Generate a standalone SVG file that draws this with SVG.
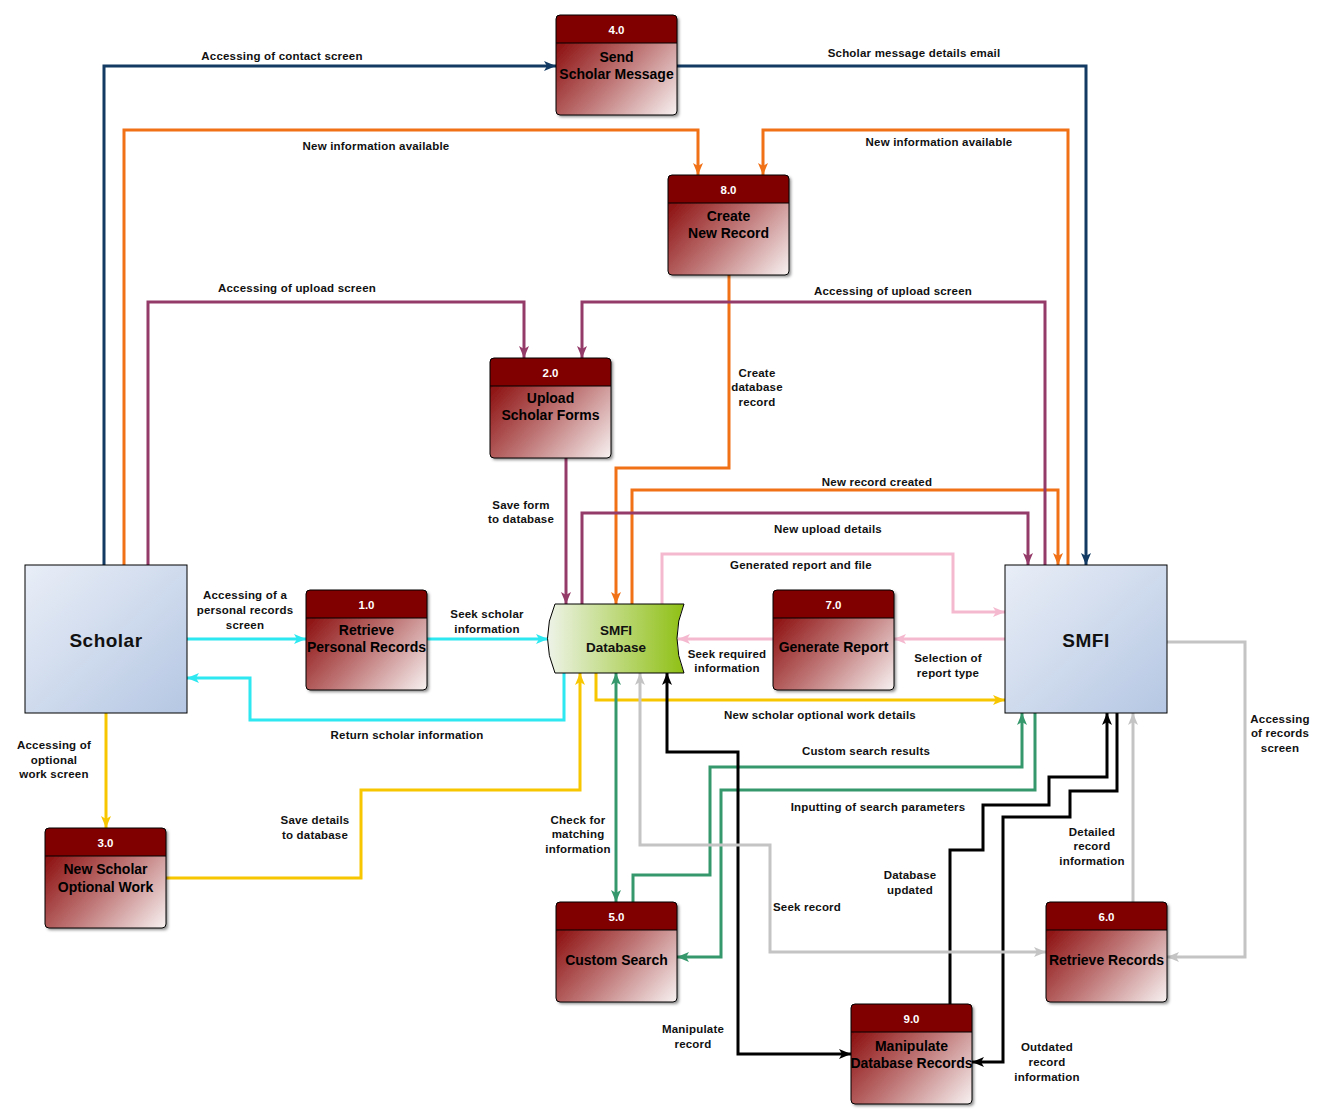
<svg xmlns="http://www.w3.org/2000/svg" width="1330" height="1120" viewBox="0 0 1330 1120">
  <defs>
    <style>
      .lbl { font-family: "Liberation Sans", Arial, sans-serif; font-weight: bold; font-size: 11.5px; letter-spacing: 0.2px; fill: #111; text-anchor: middle; }
      .num { font-family: "Liberation Sans", Arial, sans-serif; font-weight: bold; font-size: 11.5px; fill: #ffffff; text-anchor: middle; }
      .ttl { font-family: "Liberation Sans", Arial, sans-serif; font-weight: bold; font-size: 14px; fill: #000000; text-anchor: middle; }
      .ent { font-family: "Liberation Sans", Arial, sans-serif; font-weight: bold; font-size: 19px; fill: #111; text-anchor: middle; letter-spacing: 0.5px; }
      .db { font-family: "Liberation Sans", Arial, sans-serif; font-weight: bold; font-size: 13.5px; fill: #111; text-anchor: middle; }
      .body { fill: url(#procGrad); }
      .head { fill: #800000; }
      .edge { fill: none; stroke: #000; stroke-width: 1; }
      .c { fill: none; stroke-width: 3; stroke-linejoin: miter; }
      .navy { stroke: #123a63; marker-end: url(#aNavy); }
      .orange { stroke: #f07116; marker-end: url(#aOrange); }
      .purple { stroke: #953b69; marker-end: url(#aPurple); }
      .pink { stroke: #f5b9cf; marker-end: url(#aPink); }
      .cyan { stroke: #2de8f0; marker-end: url(#aCyan); }
      .yellow { stroke: #f7c600; marker-end: url(#aYellow); }
      .green { stroke: #35986c; marker-end: url(#aGreen); }
      .black { stroke: #000; marker-end: url(#aBlack); }
      .gray { stroke: #c4c4c4; marker-end: url(#aGray); }
      .green.both { marker-start: url(#aGreen); }
      .black.both { marker-start: url(#aBlack); }
      .gray.both { marker-start: url(#aGray); }
    </style>
    <linearGradient id="procGrad" x1="0" y1="0.25" x2="1" y2="1">
      <stop offset="0" stop-color="#8a0a0a"/>
      <stop offset="0.5" stop-color="#c07878"/>
      <stop offset="1" stop-color="#f8f2f2"/>
    </linearGradient>
    <linearGradient id="entGrad" x1="0" y1="0" x2="1" y2="1">
      <stop offset="0" stop-color="#e9eef7"/>
      <stop offset="1" stop-color="#b5c7e3"/>
    </linearGradient>
    <linearGradient id="dbGrad" x1="0" y1="0" x2="1" y2="0">
      <stop offset="0" stop-color="#eef3e8"/>
      <stop offset="1" stop-color="#8fc014"/>
    </linearGradient>
    <filter id="shadow" x="-10%" y="-10%" width="130%" height="130%">
      <feDropShadow dx="2" dy="2" stdDeviation="1.5" flood-color="#000" flood-opacity="0.45"/>
    </filter>
    <marker id="aNavy" markerUnits="userSpaceOnUse" markerWidth="13" markerHeight="11" refX="12" refY="5" orient="auto-start-reverse"><path d="M0,0 L12,5 L0,10 L3,5 Z" fill="#123a63"/></marker>
    <marker id="aOrange" markerUnits="userSpaceOnUse" markerWidth="13" markerHeight="11" refX="12" refY="5" orient="auto-start-reverse"><path d="M0,0 L12,5 L0,10 L3,5 Z" fill="#f07116"/></marker>
    <marker id="aPurple" markerUnits="userSpaceOnUse" markerWidth="13" markerHeight="11" refX="12" refY="5" orient="auto-start-reverse"><path d="M0,0 L12,5 L0,10 L3,5 Z" fill="#953b69"/></marker>
    <marker id="aPink" markerUnits="userSpaceOnUse" markerWidth="13" markerHeight="11" refX="12" refY="5" orient="auto-start-reverse"><path d="M0,0 L12,5 L0,10 L3,5 Z" fill="#f5b9cf"/></marker>
    <marker id="aCyan" markerUnits="userSpaceOnUse" markerWidth="13" markerHeight="11" refX="12" refY="5" orient="auto-start-reverse"><path d="M0,0 L12,5 L0,10 L3,5 Z" fill="#2de8f0"/></marker>
    <marker id="aYellow" markerUnits="userSpaceOnUse" markerWidth="13" markerHeight="11" refX="12" refY="5" orient="auto-start-reverse"><path d="M0,0 L12,5 L0,10 L3,5 Z" fill="#f7c600"/></marker>
    <marker id="aGreen" markerUnits="userSpaceOnUse" markerWidth="13" markerHeight="11" refX="12" refY="5" orient="auto-start-reverse"><path d="M0,0 L12,5 L0,10 L3,5 Z" fill="#35986c"/></marker>
    <marker id="aBlack" markerUnits="userSpaceOnUse" markerWidth="13" markerHeight="11" refX="12" refY="5" orient="auto-start-reverse"><path d="M0,0 L12,5 L0,10 L3,5 Z" fill="#000"/></marker>
    <marker id="aGray" markerUnits="userSpaceOnUse" markerWidth="13" markerHeight="11" refX="12" refY="5" orient="auto-start-reverse"><path d="M0,0 L12,5 L0,10 L3,5 Z" fill="#c4c4c4"/></marker>
    <!-- process box frame, 121 x 100 with a 28px header -->
    <g id="procBox">
      <rect x="0" y="0" width="121" height="100" rx="4" class="body" filter="url(#shadow)"/>
      <path d="M0,28 V4 Q0,0 4,0 H117 Q121,0 121,4 V28 Z" class="head"/>
      <line x1="0" y1="28" x2="121" y2="28" stroke="#000" stroke-width="1"/>
      <rect x="0" y="0" width="121" height="100" rx="4" class="edge"/>
    </g>
  </defs>

  <rect width="1330" height="1120" fill="#fff"/>

  <!-- connectors -->
  <g id="connectors">
    <polyline class="c navy" points="104,565 104,66 556,66"/>
    <polyline class="c navy" points="677,66 1086,66 1086,565"/>

    <polyline class="c orange" points="124,565 124,130 698,130 698,175"/>
    <polyline class="c orange" points="1068,565 1068,130 763,130 763,175"/>
    <polyline class="c orange" points="729,275 729,468 616,468 616,604"/>
    <polyline class="c orange" points="632,604 632,490 1058,490 1058,565"/>

    <polyline class="c purple" points="148,565 148,302 524,302 524,358"/>
    <polyline class="c purple" points="1045,565 1045,302 582,302 582,358"/>
    <polyline class="c purple" points="566,458 566,604"/>
    <polyline class="c purple" points="582,604 582,513 1028,513 1028,565"/>

    <polyline class="c pink" points="662,604 662,554 953,554 953,612 1005,612"/>
    <polyline class="c pink" points="773,639 678,639"/>
    <polyline class="c pink" points="1005,639 894,639"/>

    <polyline class="c cyan" points="187,639 306,639"/>
    <polyline class="c cyan" points="427,639 548,639"/>
    <polyline class="c cyan" points="564,673 564,720 250,720 250,678 187,678"/>

    <polyline class="c yellow" points="106,713 106,828"/>
    <polyline class="c yellow" points="166,878 361,878 361,790 580,790 580,673"/>
    <polyline class="c yellow" points="596,673 596,700 1005,700"/>

    <polyline class="c green both" points="616,673 616,902"/>
    <polyline class="c green" points="633,902 633,875 710,875 710,767 1022,767 1022,713"/>
    <polyline class="c green" points="1035,713 1035,790 721,790 721,957 677,957"/>

    <polyline class="c black" points="950,1004 950,850 983,850 983,805 1049,805 1049,777 1107,777 1107,713"/>
    <polyline class="c black" points="1117,713 1117,791 1070,791 1070,817 1003,817 1003,1062 972,1062"/>
    <polyline class="c black both" points="667,673 667,752 738,752 738,1054 851,1054"/>

    <polyline class="c gray" points="1167,642 1245,642 1245,957 1167,957"/>
    <polyline class="c gray" points="1133,902 1133,713"/>
    <polyline class="c gray both" points="640,673 640,845 770,845 770,952 1046,952"/>
  </g>

  <!-- flow labels -->
  <g id="labels">
    <text class="lbl" x="282" y="60">Accessing of contact screen</text>
    <text class="lbl" x="914" y="57">Scholar message details email</text>
    <text class="lbl" x="376" y="150">New information available</text>
    <text class="lbl" x="939" y="146">New information available</text>
    <text class="lbl" x="297" y="292">Accessing of upload screen</text>
    <text class="lbl" x="893" y="295">Accessing of upload screen</text>
    <text class="lbl" x="757" y="377">Create</text>
    <text class="lbl" x="757" y="391">database</text>
    <text class="lbl" x="757" y="406">record</text>
    <text class="lbl" x="877" y="486">New record created</text>
    <text class="lbl" x="828" y="533">New upload details</text>
    <text class="lbl" x="521" y="509">Save form</text>
    <text class="lbl" x="521" y="523">to database</text>
    <text class="lbl" x="801" y="569">Generated report and file</text>
    <text class="lbl" x="245" y="599">Accessing of a</text>
    <text class="lbl" x="245" y="614">personal records</text>
    <text class="lbl" x="245" y="629">screen</text>
    <text class="lbl" x="487" y="618">Seek scholar</text>
    <text class="lbl" x="487" y="633">information</text>
    <text class="lbl" x="727" y="658">Seek required</text>
    <text class="lbl" x="727" y="672">information</text>
    <text class="lbl" x="948" y="662">Selection of</text>
    <text class="lbl" x="948" y="677">report type</text>
    <text class="lbl" x="407" y="739">Return scholar information</text>
    <text class="lbl" x="820" y="719">New scholar optional work details</text>
    <text class="lbl" x="54" y="749">Accessing of</text>
    <text class="lbl" x="54" y="764">optional</text>
    <text class="lbl" x="54" y="778">work screen</text>
    <text class="lbl" x="315" y="824">Save details</text>
    <text class="lbl" x="315" y="839">to database</text>
    <text class="lbl" x="866" y="755">Custom search results</text>
    <text class="lbl" x="878" y="811">Inputting of search parameters</text>
    <text class="lbl" x="578" y="824">Check for</text>
    <text class="lbl" x="578" y="838">matching</text>
    <text class="lbl" x="578" y="853">information</text>
    <text class="lbl" x="1280" y="723">Accessing</text>
    <text class="lbl" x="1280" y="737">of records</text>
    <text class="lbl" x="1280" y="752">screen</text>
    <text class="lbl" x="1092" y="836">Detailed</text>
    <text class="lbl" x="1092" y="850">record</text>
    <text class="lbl" x="1092" y="865">information</text>
    <text class="lbl" x="910" y="879">Database</text>
    <text class="lbl" x="910" y="894">updated</text>
    <text class="lbl" x="807" y="911">Seek record</text>
    <text class="lbl" x="693" y="1033">Manipulate</text>
    <text class="lbl" x="693" y="1048">record</text>
    <text class="lbl" x="1047" y="1051">Outdated</text>
    <text class="lbl" x="1047" y="1066">record</text>
    <text class="lbl" x="1047" y="1081">information</text>
  </g>

  <!-- external entities -->
  <g id="scholar">
    <rect x="25" y="565" width="162" height="148" fill="url(#entGrad)" stroke="#000" stroke-width="1"/>
    <text class="ent" x="106" y="647">Scholar</text>
  </g>
  <g id="smfi">
    <rect x="1005" y="565" width="162" height="148" fill="url(#entGrad)" stroke="#000" stroke-width="1"/>
    <text class="ent" x="1086" y="647">SMFI</text>
  </g>

  <!-- data store -->
  <g id="smfi-database">
    <path d="M555,604 L684,604 Q670,638 684,673 L555,673 Q540,638 555,604 Z" fill="url(#dbGrad)" stroke="#000" stroke-width="1"/>
    <text class="db" x="616" y="635">SMFI</text>
    <text class="db" x="616" y="652">Database</text>
  </g>

  <!-- processes -->
  <g id="p4" transform="translate(556,15)">
    <use href="#procBox"/>
    <text class="num" x="60.5" y="19">4.0</text>
    <text class="ttl" x="60.5" y="47">Send</text>
    <text class="ttl" x="60.5" y="64">Scholar Message</text>
  </g>
  <g id="p8" transform="translate(668,175)">
    <use href="#procBox"/>
    <text class="num" x="60.5" y="19">8.0</text>
    <text class="ttl" x="60.5" y="46">Create</text>
    <text class="ttl" x="60.5" y="63">New Record</text>
  </g>
  <g id="p2" transform="translate(490,358)">
    <use href="#procBox"/>
    <text class="num" x="60.5" y="19">2.0</text>
    <text class="ttl" x="60.5" y="45">Upload</text>
    <text class="ttl" x="60.5" y="62">Scholar Forms</text>
  </g>
  <g id="p1" transform="translate(306,590)">
    <use href="#procBox"/>
    <text class="num" x="60.5" y="19">1.0</text>
    <text class="ttl" x="60.5" y="45">Retrieve</text>
    <text class="ttl" x="60.5" y="62">Personal Records</text>
  </g>
  <g id="p7" transform="translate(773,590)">
    <use href="#procBox"/>
    <text class="num" x="60.5" y="19">7.0</text>
    <text class="ttl" x="60.5" y="62">Generate Report</text>
  </g>
  <g id="p3" transform="translate(45,828)">
    <use href="#procBox"/>
    <text class="num" x="60.5" y="19">3.0</text>
    <text class="ttl" x="60.5" y="46">New Scholar</text>
    <text class="ttl" x="60.5" y="64">Optional Work</text>
  </g>
  <g id="p5" transform="translate(556,902)">
    <use href="#procBox"/>
    <text class="num" x="60.5" y="19">5.0</text>
    <text class="ttl" x="60.5" y="63">Custom Search</text>
  </g>
  <g id="p6" transform="translate(1046,902)">
    <use href="#procBox"/>
    <text class="num" x="60.5" y="19">6.0</text>
    <text class="ttl" x="60.5" y="63">Retrieve Records</text>
  </g>
  <g id="p9" transform="translate(851,1004)">
    <use href="#procBox"/>
    <text class="num" x="60.5" y="19">9.0</text>
    <text class="ttl" x="60.5" y="47">Manipulate</text>
    <text class="ttl" x="60.5" y="64">Database Records</text>
  </g>
</svg>
